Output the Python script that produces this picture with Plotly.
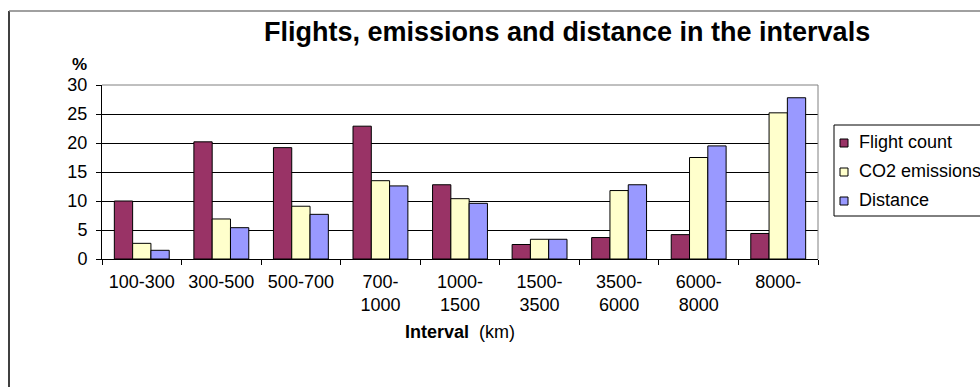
import plotly.graph_objects as go

categories = ["100-300", "300-500", "500-700", "700-<br>1000", "1000-<br>1500",
              "1500-<br>3500", "3500-<br>6000", "6000-<br>8000", "8000-"]
flight_count = [10.0, 20.2, 19.2, 22.9, 12.8, 2.5, 3.7, 4.2, 4.4]
co2_emissions = [2.7, 6.9, 9.1, 13.5, 10.4, 3.4, 11.8, 17.5, 25.2]
distance = [1.5, 5.4, 7.7, 12.6, 9.6, 3.4, 12.8, 19.5, 27.8]
y_ticks = [0, 5, 10, 15, 20, 25, 30]
series_names = ["Flight count", "CO2 emissions", "Distance"]
series_colors = ["#993366", "#FFFFCC", "#9999FF"]

FONT = "Arial, Liberation Sans, sans-serif"

# plot area in pixels
L, R, T, B = 102, 818, 85, 259
W, H = 980, 387
pw, ph = R - L, B - T


def px(x):
    return (x - L) / pw


def py(y):
    return (B - y) / ph


fig = go.Figure()
for name, vals, col in zip(series_names, [flight_count, co2_emissions, distance], series_colors):
    fig.add_trace(go.Bar(x=categories, y=vals, name=name, showlegend=False,
                         marker=dict(color=col, line=dict(color="black", width=1))))

fig.update_layout(
    width=W, height=H,
    margin=dict(l=L, r=W - R, t=T, b=H - B, autoexpand=False),
    paper_bgcolor="white", plot_bgcolor="white",
    font=dict(family=FONT, size=18, color="black"),
    barmode="group", bargap=0.31, bargroupgap=0,
    showlegend=False,
)
fig.update_xaxes(type="category", tickson="boundaries", ticks="outside", ticklen=5,
                 tickcolor="black", showline=True, linecolor="black", linewidth=1,
                 showgrid=False, tickfont=dict(size=18), ticklabelstandoff=6,
                 fixedrange=True)
fig.update_yaxes(range=[0, 30], tickvals=y_ticks, ticks="outside", ticklen=5,
                 tickcolor="black", showline=True, linecolor="black", linewidth=1,
                 showgrid=True, gridcolor="black", gridwidth=1, zeroline=False,
                 tickfont=dict(size=18), ticklabelstandoff=5, fixedrange=True)

shapes = [
    # plot area top and right border (grey)
    dict(type="line", xref="paper", yref="paper", x0=0, x1=1, y0=1, y1=1,
         line=dict(color="#808080", width=1), layer="above"),
    dict(type="line", xref="paper", yref="paper", x0=1, x1=1, y0=0, y1=1,
         line=dict(color="#808080", width=1), layer="above"),
    # outer chart frame
    dict(type="line", xref="paper", yref="paper", x0=px(9), x1=px(9), y0=py(11), y1=py(420),
         line=dict(color="black", width=1.5)),
    dict(type="line", xref="paper", yref="paper", x0=px(9), x1=px(1020), y0=py(11), y1=py(11),
         line=dict(color="#808080", width=1.5)),
    # legend box
    dict(type="rect", xref="paper", yref="paper", x0=px(834), x1=px(1100),
         y0=py(216), y1=py(125), line=dict(color="black", width=1), fillcolor="white"),
]
legend_rows = [143, 172, 201]
for yc, col, name in zip(legend_rows, series_colors, series_names):
    shapes.append(dict(type="rect", xref="paper", yref="paper",
                       x0=px(840), x1=px(848), y0=py(yc + 4), y1=py(yc - 4),
                       line=dict(color="black", width=1), fillcolor=col))
    fig.add_annotation(text=name, xref="paper", yref="paper", x=px(857), y=py(yc - 1),
                       xanchor="left", yanchor="middle", showarrow=False,
                       font=dict(family=FONT, size=18, color="black"))
fig.update_layout(shapes=shapes)

fig.add_annotation(text="<b>Flights, emissions and distance in the intervals</b>",
                   xref="paper", yref="paper", x=px(567), y=py(32),
                   xanchor="center", yanchor="middle", showarrow=False,
                   font=dict(family=FONT, size=27, color="black"))
fig.add_annotation(text="<b>%</b>", xref="paper", yref="paper", x=px(79), y=py(65),
                   xanchor="center", yanchor="middle", showarrow=False,
                   font=dict(family=FONT, size=17, color="black"))
fig.add_annotation(text="<b>Interval</b>  (km)", xref="paper", yref="paper",
                   x=0.5, y=py(332), xanchor="center", yanchor="middle", showarrow=False,
                   font=dict(family=FONT, size=18, color="black"))

fig.write_html("out.html", config={"displayModeBar": False},
               post_script="document.body.style.margin='0';")
